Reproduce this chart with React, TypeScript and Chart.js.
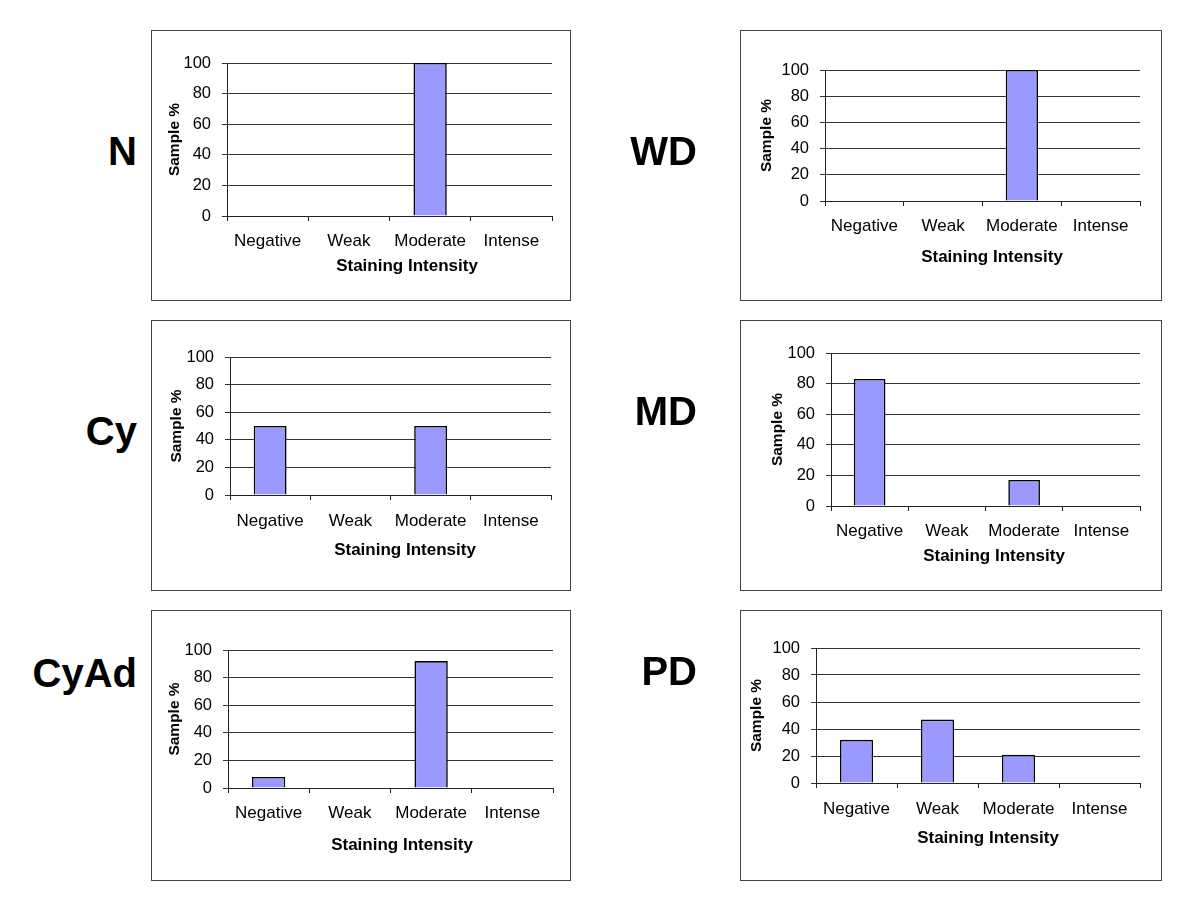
import React, { useEffect, useRef } from 'react';
import { Chart, registerables } from 'chart.js';

Chart.register(...registerables);

// ---------- data ----------
const categories = ['Negative', 'Weak', 'Moderate', 'Intense'];
const valuesN = [0, 0, 100, 0];
const valuesWD = [0, 0, 100, 0];
const valuesCy = [50, 0, 50, 0];
const valuesMD = [83, 0, 17, 0];
const valuesCyAd = [8, 0, 92, 0];
const valuesPD = [32, 47, 21, 0];
const yTickValues = [0, 20, 40, 60, 80, 100];
const xAxisTitle = 'Staining Intensity';
const yAxisTitle = 'Sample %';

// ---------- layout (page pixel coordinates) ----------
const FONT = "'Liberation Sans', Arial, Helvetica, sans-serif";

type Spec = {
  name: string;
  values: number[];
  box: [number, number, number, number];
  plot: [number, number, number, number];
  tickY: number;
  titleX: number;
  titleY: number;
  yTitleX: number;
  labelRight: number;
  labelCY: number;
};

const panels: Spec[] = [
  { name: 'N', values: valuesN, box: [151, 30, 570, 300], plot: [227, 63, 552, 216], tickY: 241, titleX: 407, titleY: 266, yTitleX: 175, labelRight: 137, labelCY: 150 },
  { name: 'WD', values: valuesWD, box: [740, 30, 1161, 300], plot: [825, 70, 1140, 201], tickY: 226, titleX: 992, titleY: 257, yTitleX: 767, labelRight: 697, labelCY: 150 },
  { name: 'Cy', values: valuesCy, box: [151, 320, 570, 590], plot: [230, 357, 551, 495], tickY: 521, titleX: 405, titleY: 550, yTitleX: 177, labelRight: 137, labelCY: 430 },
  { name: 'MD', values: valuesMD, box: [740, 320, 1161, 590], plot: [831, 353, 1140, 506], tickY: 531, titleX: 994, titleY: 556, yTitleX: 778, labelRight: 697, labelCY: 410 },
  { name: 'CyAd', values: valuesCyAd, box: [151, 610, 570, 880], plot: [228, 650, 553, 788], tickY: 813, titleX: 402, titleY: 845, yTitleX: 175, labelRight: 137, labelCY: 672 },
  { name: 'PD', values: valuesPD, box: [740, 610, 1161, 880], plot: [816, 648, 1140, 783], tickY: 809, titleX: 988, titleY: 838, yTitleX: 757, labelRight: 697, labelCY: 670 },
];

const xTitlePlugin = {
  id: 'xTitle',
  afterDraw(chart: any, _args: any, opts: any) {
    const ctx = chart.ctx;
    ctx.save();
    ctx.font = `bold 17px ${FONT}`;
    ctx.fillStyle = '#000';
    ctx.textAlign = 'center';
    ctx.textBaseline = 'middle';
    ctx.fillText(opts.text, opts.x, opts.y);
    ctx.restore();
  },
};

function Panel({ spec }: { spec: Spec }) {
  const ref = useRef<HTMLCanvasElement>(null);
  const [bl, bt, br, bb] = spec.box;
  const W = br - bl + 1;
  const H = bb - bt + 1;
  const cw = W - 2;
  const ch = H - 2;
  const ox = bl + 1;
  const oy = bt + 1;

  useEffect(() => {
    const [pl, pt, pr, pb] = spec.plot;
    const yW = pl - ox;
    const xH = 40;
    const padBottom = oy + ch - pb - xH;
    const xTickSize = 17;
    const chart = new Chart(ref.current as HTMLCanvasElement, {
      type: 'bar',
      data: {
        labels: categories,
        datasets: [
          {
            data: spec.values,
            backgroundColor: '#9999FF',
            borderColor: '#000',
            borderWidth: 1.6,
            barPercentage: 0.41,
            categoryPercentage: 1,
          },
        ],
      },
      options: {
        animation: false,
        responsive: false,
        maintainAspectRatio: false,
        devicePixelRatio: 1,
        layout: { padding: { left: 0, top: pt - oy, right: ox + cw - pr, bottom: padBottom } },
        plugins: {
          legend: { display: false },
          tooltip: { enabled: false },
          xTitle: { text: xAxisTitle, x: spec.titleX - ox, y: spec.titleY - oy },
        } as any,
        scales: {
          x: {
            grid: { drawOnChartArea: false, color: '#222', tickLength: 5, offset: true },
            border: { color: '#222' },
            ticks: {
              color: '#000',
              font: { family: FONT, size: xTickSize },
              padding: spec.tickY - pb - 5 - (xTickSize * 1.2) / 2,
              maxRotation: 0,
              autoSkip: false,
            },
            afterFit: (s: any) => {
              s.height = xH;
            },
          },
          y: {
            min: 0,
            max: 100,
            grid: { color: '#333', tickLength: 5 },
            border: { color: '#222' },
            afterBuildTicks: (s: any) => {
              s.ticks = yTickValues.map((v) => ({ value: v }));
            },
            ticks: {
              color: '#000',
              font: { family: FONT, size: 16.5 },
              padding: 11,
            },
            title: {
              display: true,
              text: yAxisTitle,
              color: '#000',
              font: { family: FONT, size: 15.5, weight: 'bold' },
              padding: { top: spec.yTitleX - ox - 9.3, bottom: 0 },
            },
            afterFit: (s: any) => {
              s.width = yW;
            },
          },
        },
      } as any,
      plugins: [xTitlePlugin],
    });
    return () => chart.destroy();
  }, []);

  return (
    <>
      <div
        style={{
          position: 'absolute',
          left: bl,
          top: bt,
          width: cw,
          height: ch,
          border: '1px solid #444',
          background: '#fff',
        }}
      >
        <canvas
          ref={ref}
          width={cw}
          height={ch}
          style={{ position: 'absolute', left: 0, top: 0, width: cw, height: ch, display: 'block' }}
        />
      </div>
      <div
        style={{
          position: 'absolute',
          left: spec.labelRight - 200,
          width: 200,
          top: spec.labelCY - 19.5,
          textAlign: 'right',
          fontFamily: FONT,
          fontWeight: 'bold',
          fontSize: 40,
          lineHeight: '40px',
          color: '#000',
          whiteSpace: 'nowrap',
        }}
      >
        {spec.name}
      </div>
    </>
  );
}

export default function App() {
  return (
    <div style={{ position: 'absolute', left: 0, top: 0, width: 1200, height: 900, background: '#fff' }}>
      {panels.map((p) => (
        <Panel key={p.name} spec={p} />
      ))}
    </div>
  );
}
